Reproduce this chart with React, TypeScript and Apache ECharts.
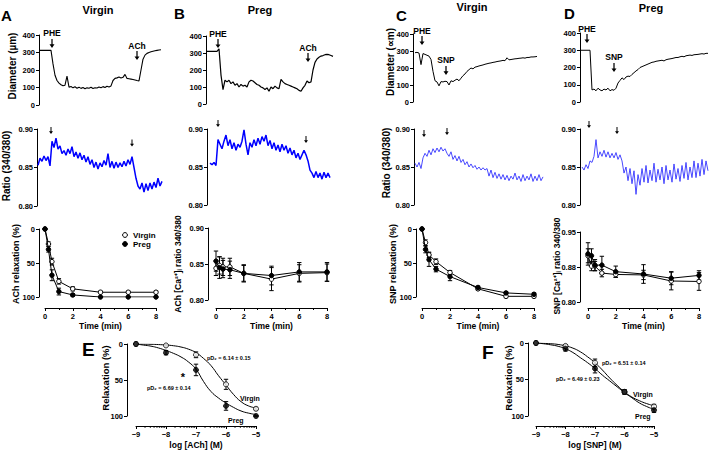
import React, { useEffect, useRef } from 'react';
import * as echarts from 'echarts';

const FONT = '"Liberation Sans", Arial, Helvetica, sans-serif';

// ---------- Top row: vessel diameter traces (µm), uniform samples ----------
const A_DIA = [312, 313, 312, 313, 312, 313, 312,
  235, 170, 140, 125, 116, 110, 113, 165, 102, 106,
  98, 104, 96, 102, 95, 100, 93, 98, 96, 101, 94, 99, 97, 103, 99, 105, 100, 107, 103, 109,
  140, 152, 155, 160, 154, 158, 175, 152, 150, 148, 146,
  143, 140, 138, 200, 262, 285, 295, 300, 304, 307, 310, 312, 314, 316];
const B_DIA = [310, 310, 310, 310, 310, 310,
  325, 170, 85, 140, 130, 140, 120, 130, 110, 120, 100, 115, 105, 110, 100,
  130, 140, 135, 125, 115, 110, 100, 95, 85, 95,
  75, 100, 90, 105, 95, 90,
  145, 130, 120, 115, 110, 105, 100, 95, 90,
  80, 75, 95, 110, 135, 125, 130,
  200, 245, 265, 275, 282, 285, 290, 292, 290, 285, 280];
const C_DIA = [290, 292, 288, 220, 285, 280, 275, 270, 250, 180, 125, 118, 95, 120, 118, 122, 120, 100, 125, 120,
  128, 135, 125, 140, 155, 165, 180, 190, 200, 195, 205, 208, 212, 215, 218, 222, 225, 228, 230, 233,
  235, 238, 240, 242, 245, 243, 260, 248, 250, 252, 254, 255, 257, 258, 260, 258, 262, 262, 265, 265, 266, 268];
const D_DIA = [300, 300, 300, 300, 300, 300,
  70, 75, 65, 80, 70, 65, 75, 70, 80, 65, 72, 68, 80,
  110, 125, 140, 130, 145, 150, 148, 160,
  170, 180, 188, 200, 205, 210, 215, 220, 225, 230, 232, 236,
  238, 240, 242, 238, 245, 248, 250, 252, 255, 258, 258, 262, 265, 262, 268, 270, 272, 270, 274, 275,
  276, 278, 280, 278, 282, 282];

// ---------- Middle row: Fura-2 ratio traces (340/380) ----------
const A_RATIO = [0.853, 0.862, 0.858, 0.865, 0.859, 0.864, 0.852, 0.884, 0.876, 0.888, 0.874, 0.878, 0.868, 0.872,
  0.866, 0.874, 0.868, 0.877, 0.864, 0.870, 0.862, 0.869, 0.860, 0.866, 0.857, 0.864, 0.854, 0.860, 0.850, 0.857,
  0.848, 0.856, 0.851, 0.859, 0.853, 0.868, 0.850, 0.858, 0.849, 0.857, 0.850, 0.856, 0.851, 0.858, 0.852, 0.860,
  0.854, 0.864, 0.850, 0.836, 0.826, 0.822, 0.830, 0.818, 0.829, 0.820, 0.830, 0.822, 0.831, 0.824, 0.836, 0.826, 0.832];
const B_RATIO = [0.855, 0.853, 0.856, 0.852, 0.886, 0.880, 0.874, 0.884, 0.892, 0.878, 0.886, 0.874, 0.882, 0.872,
  0.880, 0.876, 0.884, 0.899, 0.880, 0.866, 0.882, 0.876, 0.886, 0.878, 0.888, 0.880, 0.890, 0.884, 0.892, 0.878,
  0.885, 0.874, 0.882, 0.872, 0.879, 0.870, 0.880, 0.872, 0.878, 0.868, 0.875, 0.866, 0.872, 0.862, 0.868, 0.860,
  0.866, 0.872, 0.866, 0.858, 0.846, 0.842, 0.836, 0.844, 0.836, 0.842, 0.834, 0.843, 0.836, 0.842, 0.836];
const C_RATIO = [0.855, 0.850, 0.856, 0.848, 0.862, 0.868, 0.864, 0.872, 0.866, 0.874, 0.869, 0.875, 0.870, 0.876,
  0.871, 0.874, 0.868, 0.864, 0.870, 0.860, 0.865, 0.858, 0.864, 0.856, 0.860, 0.853, 0.857, 0.850, 0.854, 0.849,
  0.852, 0.847, 0.850, 0.846, 0.849, 0.846, 0.848, 0.838, 0.846, 0.836, 0.843, 0.835, 0.841, 0.834, 0.840, 0.833,
  0.839, 0.832, 0.838, 0.834, 0.842, 0.833, 0.838, 0.831, 0.840, 0.832, 0.838, 0.833, 0.841, 0.831, 0.838, 0.832,
  0.840, 0.832, 0.837];
const D_RATIO = [0.850, 0.846, 0.853, 0.848, 0.858, 0.856, 0.864, 0.886, 0.862, 0.870, 0.864, 0.872, 0.863, 0.870,
  0.862, 0.868, 0.862, 0.869, 0.860, 0.866, 0.858, 0.842, 0.850, 0.832, 0.848, 0.828, 0.845, 0.814, 0.840, 0.826,
  0.848, 0.830, 0.852, 0.829, 0.846, 0.832, 0.855, 0.830, 0.847, 0.833, 0.850, 0.828, 0.852, 0.833, 0.846, 0.830,
  0.854, 0.834, 0.848, 0.831, 0.852, 0.835, 0.856, 0.833, 0.850, 0.836, 0.858, 0.836, 0.855, 0.838, 0.860, 0.840,
  0.858, 0.845];

// ---------- Bottom row: time courses ----------
const TIMES = [0, 0.25, 0.5, 1, 2, 4, 6, 8];
const A_VIRGIN = [0, 22, 48, 77, 88, 93, 93, 93];
const A_VIRGIN_ERR = [0, 3, 5, 4, 3, 2, 2, 2];
const A_PREG = [0, 30, 68, 92, 97, 100, 100, 100];
const A_PREG_ERR = [0, 4, 8, 5, 2, 1, 1, 1];
const B_VIRGIN = [0.844, 0.848, 0.846, 0.846, 0.837, 0.829, 0.837, 0.838];
const B_VIRGIN_ERR = [0.010, 0.012, 0.012, 0.012, 0.011, 0.016, 0.012, 0.012];
const B_PREG = [0.854, 0.845, 0.843, 0.842, 0.837, 0.834, 0.839, 0.839];
const B_PREG_ERR = [0.014, 0.015, 0.012, 0.012, 0.012, 0.013, 0.013, 0.013];
const C_VIRGIN = [0, 20, 38, 48, 64, 88, 99, 99];
const C_VIRGIN_ERR = [0, 4, 4, 4, 3, 2, 2, 2];
const C_PREG = [0, 30, 45, 59, 70, 86, 94, 96];
const C_PREG_ERR = [0, 5, 10, 4, 6, 2, 2, 2];
const D_VIRGIN = [0.899, 0.877, 0.877, 0.862, 0.859, 0.858, 0.845, 0.844];
const D_VIRGIN_ERR = [0.015, 0.010, 0.010, 0.008, 0.006, 0.010, 0.019, 0.019];
const D_PREG = [0.903, 0.899, 0.879, 0.879, 0.865, 0.860, 0.851, 0.857];
const D_PREG_ERR = [0.024, 0.015, 0.012, 0.019, 0.012, 0.020, 0.014, 0.010];

// ---------- E / F: concentration-response ----------
const LOG_DOSES = [-9, -8, -7, -6, -5];
const E_VIRGIN = [0, 2, 15, 56, 90];
const E_VIRGIN_ERR = [0, 1, 4, 7, 2];
const E_PREG = [0, 12, 36, 86, 100];
const E_PREG_ERR = [0, 3, 8, 6, 1];
const F_VIRGIN = [0, 4, 27, 67, 87];
const F_VIRGIN_ERR = [0, 2, 5, 3, 3];
const F_PREG = [0, 8, 35, 67, 92];
const F_PREG_ERR = [0, 3, 6, 3, 3];
const LOG_FIT = [-9, -8.75, -8.5, -8.25, -8, -7.75, -7.5, -7.25, -7, -6.75, -6.5, -6.25, -6, -5.75, -5.5, -5.25, -5];
const E_VIRGIN_FIT = [0.1, 0.3, 0.4, 0.8, 1.4, 2.4, 4.2, 7.2, 12, 20, 30, 44, 57, 70, 80, 86, 89];
const E_PREG_FIT = [0, 1.5, 3, 5.5, 9, 13, 18, 25, 35, 52, 66, 75, 82, 88, 93, 96, 98];
const F_VIRGIN_FIT = [0, 0.5, 1, 2, 4, 7, 12, 19, 27, 37, 48, 58, 67, 74, 79, 83, 86];
const F_PREG_FIT = [0, 1, 2.5, 4.5, 8, 13, 20, 27, 35, 44, 52, 60, 68, 75, 82, 87, 91];

const ARROW = 'path://M3,0L5,0L5,9L8,9L4,15L0,9L3,9Z';

const idx = (vals: number[]) => vals.map((v, i) => [i, v]);
const pairs = (xs: number[], ys: number[]) => xs.map((x, i) => [x, ys[i]]);

const axisText = { color: '#000', fontSize: 7.5, fontWeight: 'bold' as const, fontFamily: FONT };
const blackLine = { color: '#000', width: 1 };

function hiddenX(k: number, min: number, max: number) {
  return { type: 'value', gridIndex: k, min, max, show: false };
}

function yAx(k: number, o: any) {
  return {
    type: 'value', gridIndex: k, min: o.min, max: o.max, interval: o.interval,
    inverse: !!o.inverse, offset: o.offset || 0, position: 'left',
    axisLine: { show: true, onZero: false, lineStyle: blackLine },
    axisTick: { show: true, length: 3, lineStyle: blackLine },
    axisLabel: { ...axisText, margin: 4, ...(o.fmt ? { formatter: o.fmt } : {}) },
    splitLine: { show: false },
  };
}

function xAx(k: number, o: any) {
  return {
    type: 'value', gridIndex: k, min: o.min, max: o.max, interval: o.interval,
    offset: o.offset, position: 'bottom',
    axisLine: { show: true, onZero: false, lineStyle: blackLine },
    axisTick: { show: true, length: 3, lineStyle: blackLine },
    minorTick: o.minor ? { show: true, splitNumber: o.minor, length: 2, lineStyle: blackLine } : { show: false },
    axisLabel: { ...axisText, margin: 4, ...(o.fmt ? { formatter: o.fmt } : {}) },
    splitLine: { show: false }, minorSplitLine: { show: false },
    name: o.name, nameLocation: 'middle', nameGap: o.nameGap,
    nameTextStyle: { color: '#000', fontSize: 8.5, fontWeight: 'bold', fontFamily: FONT },
  };
}

function arrows(items: any[], size: [number, number]) {
  return {
    symbol: ARROW, symbolSize: size, silent: true,
    itemStyle: { color: '#000' },
    label: { show: false, position: 'top', distance: 1, color: '#000', fontSize: 8.5, fontWeight: 'bold', fontFamily: FONT },
    data: items.map((it) => ({
      coord: [it.x, it.y],
      symbolOffset: [0, -(size[1] / 2) - (it.off || 0)],
      label: { show: !!it.label, formatter: it.label || '' },
    })),
  };
}

function trace(k: number, vals: number[], color: string, width: number, mp: any) {
  return {
    type: 'line', xAxisIndex: k, yAxisIndex: k, data: idx(vals), symbol: 'none',
    lineStyle: { color, width }, markPoint: mp, animation: false,
  };
}

function errBars(k: number, xs: number[], ys: number[], es: number[]) {
  return {
    type: 'custom', xAxisIndex: k, yAxisIndex: k, z: 2, silent: true,
    data: xs.map((x, i) => [x, ys[i] - es[i], ys[i] + es[i]]).filter((_, i) => es[i] > 0),
    renderItem: (_p: any, api: any) => {
      const a = api.coord([api.value(0), api.value(1)]);
      const b = api.coord([api.value(0), api.value(2)]);
      const c = 2.2;
      const st = { stroke: '#000', lineWidth: 1 };
      return {
        type: 'group', children: [
          { type: 'line', shape: { x1: a[0], y1: a[1], x2: b[0], y2: b[1] }, style: st },
          { type: 'line', shape: { x1: a[0] - c, y1: a[1], x2: a[0] + c, y2: a[1] }, style: st },
          { type: 'line', shape: { x1: b[0] - c, y1: b[1], x2: b[0] + c, y2: b[1] }, style: st },
        ],
      };
    },
  };
}

function pts(k: number, name: string, xs: number[], ys: number[], open: boolean, withLine: boolean, size: number) {
  return {
    type: withLine ? 'line' : 'scatter', name, xAxisIndex: k, yAxisIndex: k, data: pairs(xs, ys),
    symbol: 'circle', symbolSize: size, showSymbol: true,
    lineStyle: blackLine,
    itemStyle: { color: open ? '#fff' : '#000', borderColor: '#000', borderWidth: 1 },
    z: open ? 4 : 5,
  };
}

function fit(k: number, ys: number[]) {
  return {
    type: 'line', xAxisIndex: k, yAxisIndex: k, data: pairs(LOG_FIT, ys), symbol: 'none',
    smooth: true, lineStyle: blackLine, z: 3,
  };
}

function logMinor(k: number, off: number) {
  const d: number[][] = [];
  for (let dec = -9; dec < -5; dec++) for (let m = 2; m <= 9; m++) d.push([dec + Math.log10(m)]);
  return {
    type: 'custom', xAxisIndex: k, yAxisIndex: k, silent: true, data: d,
    renderItem: (_p: any, api: any) => {
      const p = api.coord([api.value(0), 100]);
      return { type: 'line', shape: { x1: p[0], y1: p[1] + off, x2: p[0], y2: p[1] + off + 2 }, style: { stroke: '#000', lineWidth: 0.8 } };
    },
  };
}

const fmt2 = (v: number) => (Math.round(v * 100 + 1e-6) / 100).toFixed(2);
const fmtMinus = (v: number) => (v < 0 ? '\u2212' + Math.abs(v) : String(v));

function txt(text: string, x: number, y: number, size: number, opts: any = {}) {
  return {
    type: 'text', x, y, rotation: opts.rot || 0, silent: true,
    style: {
      text, fill: '#000', fontSize: size, fontWeight: 'bold', fontFamily: FONT,
      align: opts.align || 'center', verticalAlign: 'middle',
    },
  };
}

function buildOption() {
  const grids = [
    { left: 39, top: 35, width: 124, height: 70 },
    { left: 206, top: 36, width: 130, height: 68 },
    { left: 413, top: 34, width: 126, height: 68 },
    { left: 580, top: 33, width: 129, height: 69 },
    { left: 37, top: 129, width: 127, height: 77 },
    { left: 207, top: 129, width: 125, height: 76 },
    { left: 414, top: 129, width: 130, height: 76 },
    { left: 580, top: 129, width: 128, height: 76 },
    { left: 45, top: 229, width: 111, height: 68 },
    { left: 216, top: 228, width: 111, height: 72 },
    { left: 422, top: 229, width: 112, height: 68 },
    { left: 588, top: 232, width: 111, height: 70 },
    { left: 136, top: 344, width: 120, height: 73 },
    { left: 536, top: 343, width: 118, height: 74 },
  ];

  const xAxis = [
    hiddenX(0, 0, 62), hiddenX(1, -0.5, 64.5), hiddenX(2, -1, 62), hiddenX(3, 0, 64.5),
    hiddenX(4, -0.5, 63), hiddenX(5, -1.5, 61), hiddenX(6, -0.5, 64.5), hiddenX(7, -1, 63),
    xAx(8, { min: 0, max: 8, interval: 2, offset: 11, minor: 2, name: 'Time (min)', nameGap: 13 }),
    xAx(9, { min: 0, max: 8, interval: 2, offset: 8, minor: 2, name: 'Time (min)', nameGap: 13 }),
    xAx(10, { min: 0, max: 8, interval: 2, offset: 11, minor: 2, name: 'Time (min)', nameGap: 13 }),
    xAx(11, { min: 0, max: 8, interval: 2, offset: 6, minor: 2, name: 'Time (min)', nameGap: 13 }),
    xAx(12, { min: -9, max: -5, interval: 1, offset: 10, fmt: fmtMinus, name: 'log [ACh] (M)', nameGap: 14 }),
    xAx(13, { min: -9, max: -5, interval: 1, offset: 10, fmt: fmtMinus, name: 'log [SNP] (M)', nameGap: 14 }),
  ];

  const dia = { min: 0, max: 400, interval: 100 };
  const rat = { min: 0.8, max: 0.9, interval: 0.05, fmt: fmt2 };
  const yAxis = [
    yAx(0, dia), yAx(1, dia), yAx(2, dia), yAx(3, dia),
    yAx(4, rat), yAx(5, rat), yAx(6, rat), yAx(7, rat),
    yAx(8, { min: 0, max: 100, interval: 50, inverse: true, offset: 6 }),
    yAx(9, { min: 0.8, max: 0.9, interval: 0.05, offset: 8, fmt: fmt2 }),
    yAx(10, { min: 0, max: 100, interval: 50, inverse: true, offset: 6 }),
    yAx(11, { min: 0.8, max: 0.95, interval: 0.075, offset: 8, fmt: fmt2 }),
    yAx(12, { min: 0, max: 100, interval: 50, inverse: true, offset: 9 }),
    yAx(13, { min: 0, max: 100, interval: 50, inverse: true, offset: 8 }),
  ];

  const big: [number, number] = [5, 9];
  const small: [number, number] = [4, 7];
  const S = 4.5;
  const SE = 5;
  const series: any[] = [
    trace(0, A_DIA, '#000', 1.1, arrows([{ x: 6.5, y: 326, label: 'PHE' }, { x: 49, y: 257, label: 'ACh' }], big)),
    trace(1, B_DIA, '#000', 1.2, arrows([{ x: 5.5, y: 329, label: 'PHE' }, { x: 50.5, y: 247, label: 'ACh' }], big)),
    trace(2, C_DIA, '#000', 1, arrows([{ x: 3.5, y: 335, label: 'PHE' }, { x: 15.5, y: 159, label: 'SNP' }], big)),
    trace(3, D_DIA, '#000', 1, arrows([{ x: 3.5, y: 342, label: 'PHE' }, { x: 17, y: 174, label: 'SNP' }], big)),
    trace(4, A_RATIO, '#0000ff', 1.5, arrows([{ x: 6.5, y: 0.8935 }, { x: 47, y: 0.8773 }], small)),
    trace(5, B_RATIO, '#0000ff', 1.5, arrows([{ x: 4, y: 0.9, off: 2 }, { x: 48, y: 0.8816 }], small)),
    trace(6, C_RATIO, '#3434ff', 0.9, arrows([{ x: 4.5, y: 0.8895 }, { x: 16, y: 0.8921 }], small)),
    trace(7, D_RATIO, '#3434ff', 0.9, arrows([{ x: 3.5, y: 0.9, off: 1 }, { x: 17.5, y: 0.8934 }], small)),

    errBars(8, TIMES, A_VIRGIN, A_VIRGIN_ERR), errBars(8, TIMES, A_PREG, A_PREG_ERR),
    pts(8, 'Virgin', TIMES, A_VIRGIN, true, true, S), pts(8, 'Preg', TIMES, A_PREG, false, true, S),
    errBars(9, TIMES, B_VIRGIN, B_VIRGIN_ERR), errBars(9, TIMES, B_PREG, B_PREG_ERR),
    pts(9, 'Virgin', TIMES, B_VIRGIN, true, true, S), pts(9, 'Preg', TIMES, B_PREG, false, true, S),
    errBars(10, TIMES, C_VIRGIN, C_VIRGIN_ERR), errBars(10, TIMES, C_PREG, C_PREG_ERR),
    pts(10, 'Virgin', TIMES, C_VIRGIN, true, true, S), pts(10, 'Preg', TIMES, C_PREG, false, true, S),
    errBars(11, TIMES, D_VIRGIN, D_VIRGIN_ERR), errBars(11, TIMES, D_PREG, D_PREG_ERR),
    pts(11, 'Virgin', TIMES, D_VIRGIN, true, true, S), pts(11, 'Preg', TIMES, D_PREG, false, true, S),

    fit(12, E_VIRGIN_FIT), fit(12, E_PREG_FIT),
    errBars(12, LOG_DOSES, E_VIRGIN, E_VIRGIN_ERR), errBars(12, LOG_DOSES, E_PREG, E_PREG_ERR),
    pts(12, 'Virgin', LOG_DOSES, E_VIRGIN, true, false, SE), pts(12, 'Preg', LOG_DOSES, E_PREG, false, false, SE),
    logMinor(12, 10),
    fit(13, F_VIRGIN_FIT), fit(13, F_PREG_FIT),
    errBars(13, LOG_DOSES, F_VIRGIN, F_VIRGIN_ERR), errBars(13, LOG_DOSES, F_PREG, F_PREG_ERR),
    pts(13, 'Virgin', LOG_DOSES, F_VIRGIN, true, false, SE), pts(13, 'Preg', LOG_DOSES, F_PREG, false, false, SE),
    logMinor(13, 10),
  ];

  const R = Math.PI / 2;
  const graphic: any[] = [
    txt('A', 1, 15, 15, { align: 'left' }), txt('B', 174, 13, 15, { align: 'left' }),
    txt('C', 396, 15, 15, { align: 'left' }), txt('D', 564, 13, 15, { align: 'left' }),
    txt('E', 82, 349, 19, { align: 'left' }), txt('F', 482, 352, 19, { align: 'left' }),
    txt('Virgin', 98, 10, 11), txt('Preg', 260, 10, 11), txt('Virgin', 472, 7, 11), txt('Preg', 651, 8, 11),
    txt('Diameter (µm)', 12, 66, 10, { rot: R }), txt('Diameter (\u221Dm)', 390, 62, 10, { rot: R }),
    txt('Ratio (340/380)', 6, 166, 10, { rot: R }), txt('Ratio (340/380)', 386, 163, 10, { rot: R }),
    txt('ACh relaxation (%)', 16, 264, 9, { rot: R }), txt('ACh [Ca²⁺]ᵢ ratio 340/380', 178, 264, 8.5, { rot: R }),
    txt('SNP relaxation (%)', 393, 264, 9, { rot: R }), txt('SNP [Ca²⁺]ᵢ ratio 340/380', 557, 266, 8.5, { rot: R }),
    txt('Relaxation (%)', 105, 378, 9.5, { rot: R }), txt('Relaxation (%)', 508, 378, 9.5, { rot: R }),
    { type: 'circle', shape: { cx: 125, cy: 235, r: 2.4 }, style: { fill: '#fff', stroke: '#000', lineWidth: 1 }, silent: true },
    { type: 'circle', shape: { cx: 125, cy: 244, r: 2.4 }, style: { fill: '#000', stroke: '#000', lineWidth: 1 }, silent: true },
    txt('Virgin', 133, 235, 8, { align: 'left' }), txt('Preg', 133, 244, 8, { align: 'left' }),
    txt('Virgin', 240, 398, 7, { align: 'left' }), txt('Preg', 228, 420, 7, { align: 'left' }),
    txt('*', 183, 377, 11), txt('pD₂ = 6.69 ± 0.14', 147, 388, 5.5, { align: 'left' }),
    txt('pD₂ = 6.14 ± 0.15', 207, 358, 5.5, { align: 'left' }),
    txt('Virgin', 633, 394, 7, { align: 'left' }), txt('Preg', 635, 416, 7, { align: 'left' }),
    txt('pD₂ = 6.51 ± 0.14', 602, 363, 5.5, { align: 'left' }),
    txt('pD₂ = 6.49 ± 0.23', 556, 379, 5.5, { align: 'left' }),
  ];

  return {
    animation: false,
    backgroundColor: '#fff',
    textStyle: { fontFamily: FONT },
    grid: grids,
    xAxis, yAxis, series, graphic,
  };
}

export default function App() {
  const ref = useRef<HTMLDivElement>(null);
  useEffect(() => {
    document.body.style.margin = '0';
    const chart = echarts.init(ref.current!, null, { renderer: 'svg' });
    chart.setOption(buildOption() as any);
    return () => chart.dispose();
  }, []);
  return <div ref={ref} style={{ width: 709, height: 450 }} />;
}
